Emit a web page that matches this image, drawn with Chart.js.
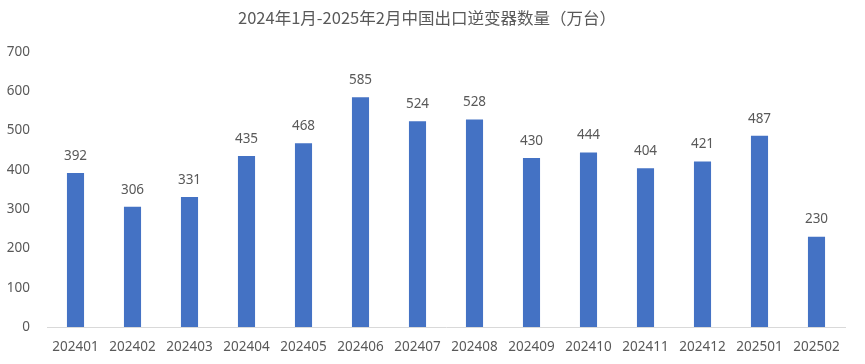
<!DOCTYPE html>
<html>
<head>
<meta charset="utf-8">
<script src="https://cdn.jsdelivr.net/npm/chart.js@4"></script>
<style>
  html, body { margin: 0; padding: 0; background: #fff; }
  #wrap { width: 865px; height: 364px; }
</style>
</head>
<body>
<div id="wrap"><canvas id="exportChart"></canvas></div>
<script>
// data
const months = ['202401', '202402', '202403', '202404', '202405', '202406', '202407',
  '202408', '202409', '202410', '202411', '202412', '202501', '202502'];
const units = [392, 306, 331, 435, 468, 585, 524, 528, 430, 444, 404, 421, 487, 230];
const yTicks = [0, 100, 200, 300, 400, 500, 600, 700];
const titleText = '2024年1月-2025年2月中国出口逆变器数量（万台）';

const textColor = '#595959';

// value labels above bars
const barLabels = {
  id: 'barLabels',
  afterDatasetsDraw(chart) {
    const ctx = chart.ctx;
    const meta = chart.getDatasetMeta(0);
    ctx.save();
    ctx.font = '13.5px "Noto Sans"';
    ctx.fillStyle = textColor;
    ctx.textAlign = 'center';
    ctx.textBaseline = 'middle';
    meta.data.forEach((bar, i) => {
      ctx.fillText(units[i], bar.x, bar.y - 17);
    });
    ctx.restore();
  }
};

// title drawn to the original's width
const chartTitle = {
  id: 'chartTitle',
  afterDraw(chart) {
    const ctx = chart.ctx;
    ctx.save();
    ctx.font = '16px "Noto Sans CJK SC"';
    ctx.fillStyle = textColor;
    ctx.textAlign = 'center';
    ctx.textBaseline = 'middle';
    const w = ctx.measureText(titleText).width;
    ctx.translate(427, 18);
    ctx.scale(378 / w, 1);
    ctx.fillText(titleText, 0, 0);
    ctx.restore();
  }
};

new Chart(document.getElementById('exportChart').getContext('2d'), {
  type: 'bar',
  data: {
    labels: months,
    datasets: [{
      data: units,
      backgroundColor: '#4472C4',
      categoryPercentage: 1,
      barPercentage: 0.3
    }]
  },
  options: {
    responsive: true,
    maintainAspectRatio: false,
    animation: false,
    layout: { padding: { top: 52, right: 20, bottom: 0, left: 0 } },
    plugins: {
      legend: { display: false },
      tooltip: { enabled: false },
      title: { display: false }
    },
    scales: {
      x: {
        afterFit(axis) { axis.height = 37; },
        grid: { display: false, drawTicks: false },
        border: { color: '#D9D9D9', width: 1 },
        ticks: {
          color: textColor,
          font: { family: 'Noto Sans', size: 13.5 },
          padding: 12,
          maxRotation: 0,
          autoSkip: false
        }
      },
      y: {
        min: 0,
        max: 700,
        afterBuildTicks(axis) { axis.ticks = yTicks.map(v => ({ value: v })); },
        afterFit(axis) { axis.width = 47; },
        grid: { display: false, drawTicks: false },
        border: { display: false },
        ticks: {
          color: textColor,
          font: { family: 'Noto Sans', size: 13.5 },
          padding: 17
        }
      }
    }
  },
  plugins: [barLabels, chartTitle]
});
</script>
</body>
</html>
